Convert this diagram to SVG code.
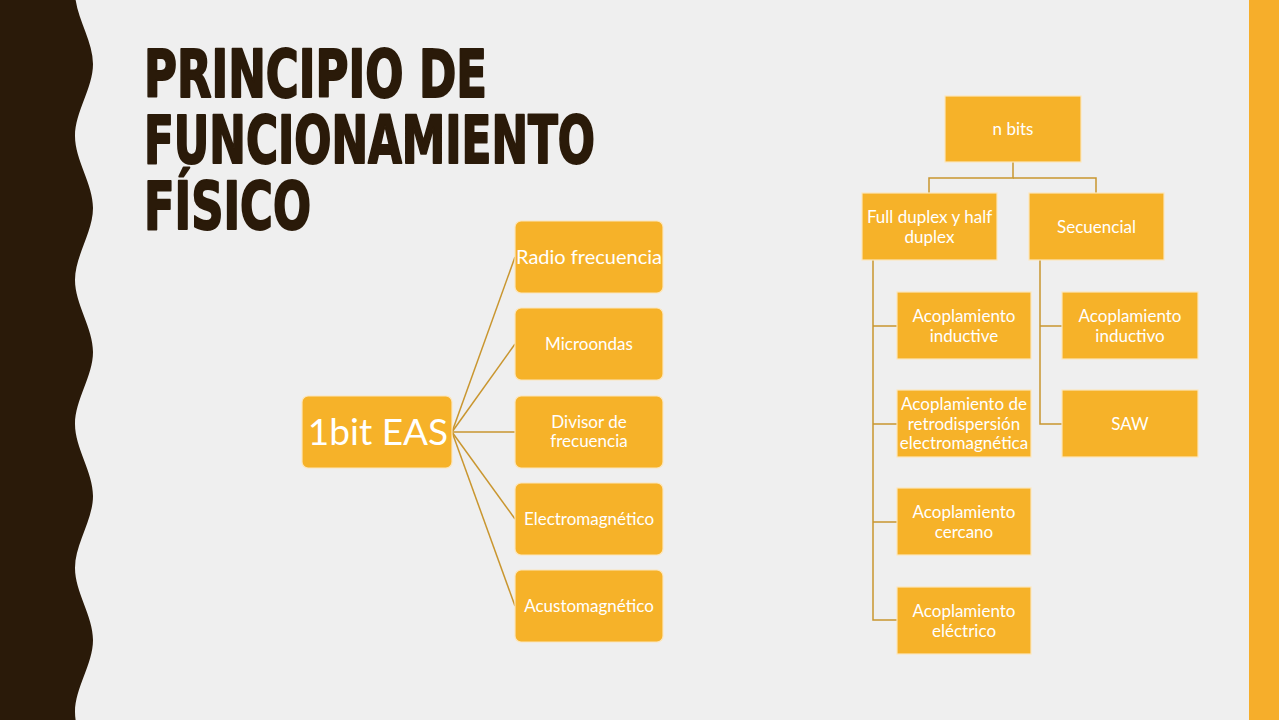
<svg xmlns="http://www.w3.org/2000/svg" width="1279" height="720" viewBox="0 0 1279 720">
<defs>
<style>
.box{fill:#F6B229;stroke:#FCE6BC;stroke-width:1.2}
.t{font-family:Lato,"Open Sans","Liberation Sans",sans-serif;fill:#FFFFFF;text-anchor:middle;font-size:17px}
.con{fill:none;stroke:#C9962F;stroke-width:1.5}
.title{font-family:"DejaVu Sans Condensed","DejaVu Sans","Liberation Sans",sans-serif;font-weight:bold;font-size:66px;fill:#2A1A09;stroke:#2A1A09;stroke-width:2;stroke-linejoin:round}
</style>
</defs>
<rect x="0" y="0" width="1279" height="720" fill="#EFEFEF"/>
<path d="M0 -8 L75 -8 C75 16 93 40 93 64 S75 112 75 136 S93 184 93 208 S75 256 75 280 S93 328 93 352 S75 400 75 424 S93 472 93 496 S75 544 75 568 S93 616 93 640 S75 688 75 712 S93 760 93 784 L0 784 Z" fill="#2A1A09"/>
<rect x="1249" y="0" width="30" height="720" fill="#F6AE2B"/>
<g id="title">
<text class="title" x="144" y="97" textLength="343" lengthAdjust="spacingAndGlyphs">PRINCIPIO DE</text>
<text class="title" x="144" y="163" textLength="451" lengthAdjust="spacingAndGlyphs">FUNCIONAMIENTO</text>
<text class="title" x="144" y="229" textLength="167" lengthAdjust="spacingAndGlyphs">FÍSICO</text>
</g>
<g id="connectors">
<line class="con" x1="452" y1="432" x2="515" y2="257"/>
<line class="con" x1="452" y1="432" x2="515" y2="344"/>
<line class="con" x1="452" y1="432" x2="515" y2="432"/>
<line class="con" x1="452" y1="432" x2="515" y2="519"/>
<line class="con" x1="452" y1="432" x2="515" y2="606"/>
<polyline class="con" points="1013,162 1013,178 929,178 929,193"/>
<polyline class="con" points="1013,178 1096,178 1096,193"/>
<polyline class="con" points="873,260 873,620 897,620"/>
<line class="con" x1="873" y1="326" x2="897" y2="326"/>
<line class="con" x1="873" y1="424" x2="897" y2="424"/>
<line class="con" x1="873" y1="522" x2="897" y2="522"/>
<polyline class="con" points="1040,260 1040,424 1062,424"/>
<line class="con" x1="1040" y1="326" x2="1062" y2="326"/>
</g>
<g id="n-1bit">
<rect class="box" x="302" y="396" width="150" height="72" rx="6"/>
<text class="t" x="378" y="445" style="font-size:37px">1bit EAS</text>
</g>
<g id="n-radio">
<rect class="box" x="515" y="221" width="148" height="72" rx="6"/>
<text class="t" x="589" y="264" style="font-size:20px">Radio frecuencia</text>
</g>
<g id="n-micro">
<rect class="box" x="515" y="308" width="148" height="72" rx="6"/>
<text class="t" x="589" y="350">Microondas</text>
</g>
<g id="n-divisor">
<rect class="box" x="515" y="396" width="148" height="72" rx="6"/>
<text class="t" x="589" y="428">Divisor de</text>
<text class="t" x="589" y="447">frecuencia</text>
</g>
<g id="n-electro">
<rect class="box" x="515" y="483" width="148" height="72" rx="6"/>
<text class="t" x="589" y="525">Electromagnético</text>
</g>
<g id="n-acusto">
<rect class="box" x="515" y="570" width="148" height="72" rx="6"/>
<text class="t" x="589" y="612">Acustomagnético</text>
</g>
<g id="n-nbits">
<rect class="box" x="945" y="96" width="136" height="66"/>
<text class="t" x="1013" y="135">n bits</text>
</g>
<g id="n-full">
<rect class="box" x="862" y="193" width="135" height="67"/>
<text class="t" x="929.5" y="223">Full duplex y half</text>
<text class="t" x="929.5" y="242.5">duplex</text>
</g>
<g id="n-secuencial">
<rect class="box" x="1029" y="193" width="135" height="67"/>
<text class="t" x="1096.5" y="233">Secuencial</text>
</g>
<g id="n-aco-inductive">
<rect class="box" x="897" y="292" width="134" height="67"/>
<text class="t" x="964" y="322">Acoplamiento</text>
<text class="t" x="964" y="341.5">inductive</text>
</g>
<g id="n-aco-retro">
<rect class="box" x="897" y="390" width="134" height="67"/>
<text class="t" x="964" y="410">Acoplamiento de</text>
<text class="t" x="964" y="429.5">retrodispersión</text>
<text class="t" x="964" y="449">electromagnética</text>
</g>
<g id="n-aco-cercano">
<rect class="box" x="897" y="488" width="134" height="67"/>
<text class="t" x="964" y="518">Acoplamiento</text>
<text class="t" x="964" y="537.5">cercano</text>
</g>
<g id="n-aco-electrico">
<rect class="box" x="897" y="587" width="134" height="67"/>
<text class="t" x="964" y="617">Acoplamiento</text>
<text class="t" x="964" y="636.5">eléctrico</text>
</g>
<g id="n-aco-inductivo">
<rect class="box" x="1062" y="292" width="136" height="67"/>
<text class="t" x="1130" y="322">Acoplamiento</text>
<text class="t" x="1130" y="341.5">inductivo</text>
</g>
<g id="n-saw">
<rect class="box" x="1062" y="390" width="136" height="67"/>
<text class="t" x="1130" y="430">SAW</text>
</g>
</svg>
